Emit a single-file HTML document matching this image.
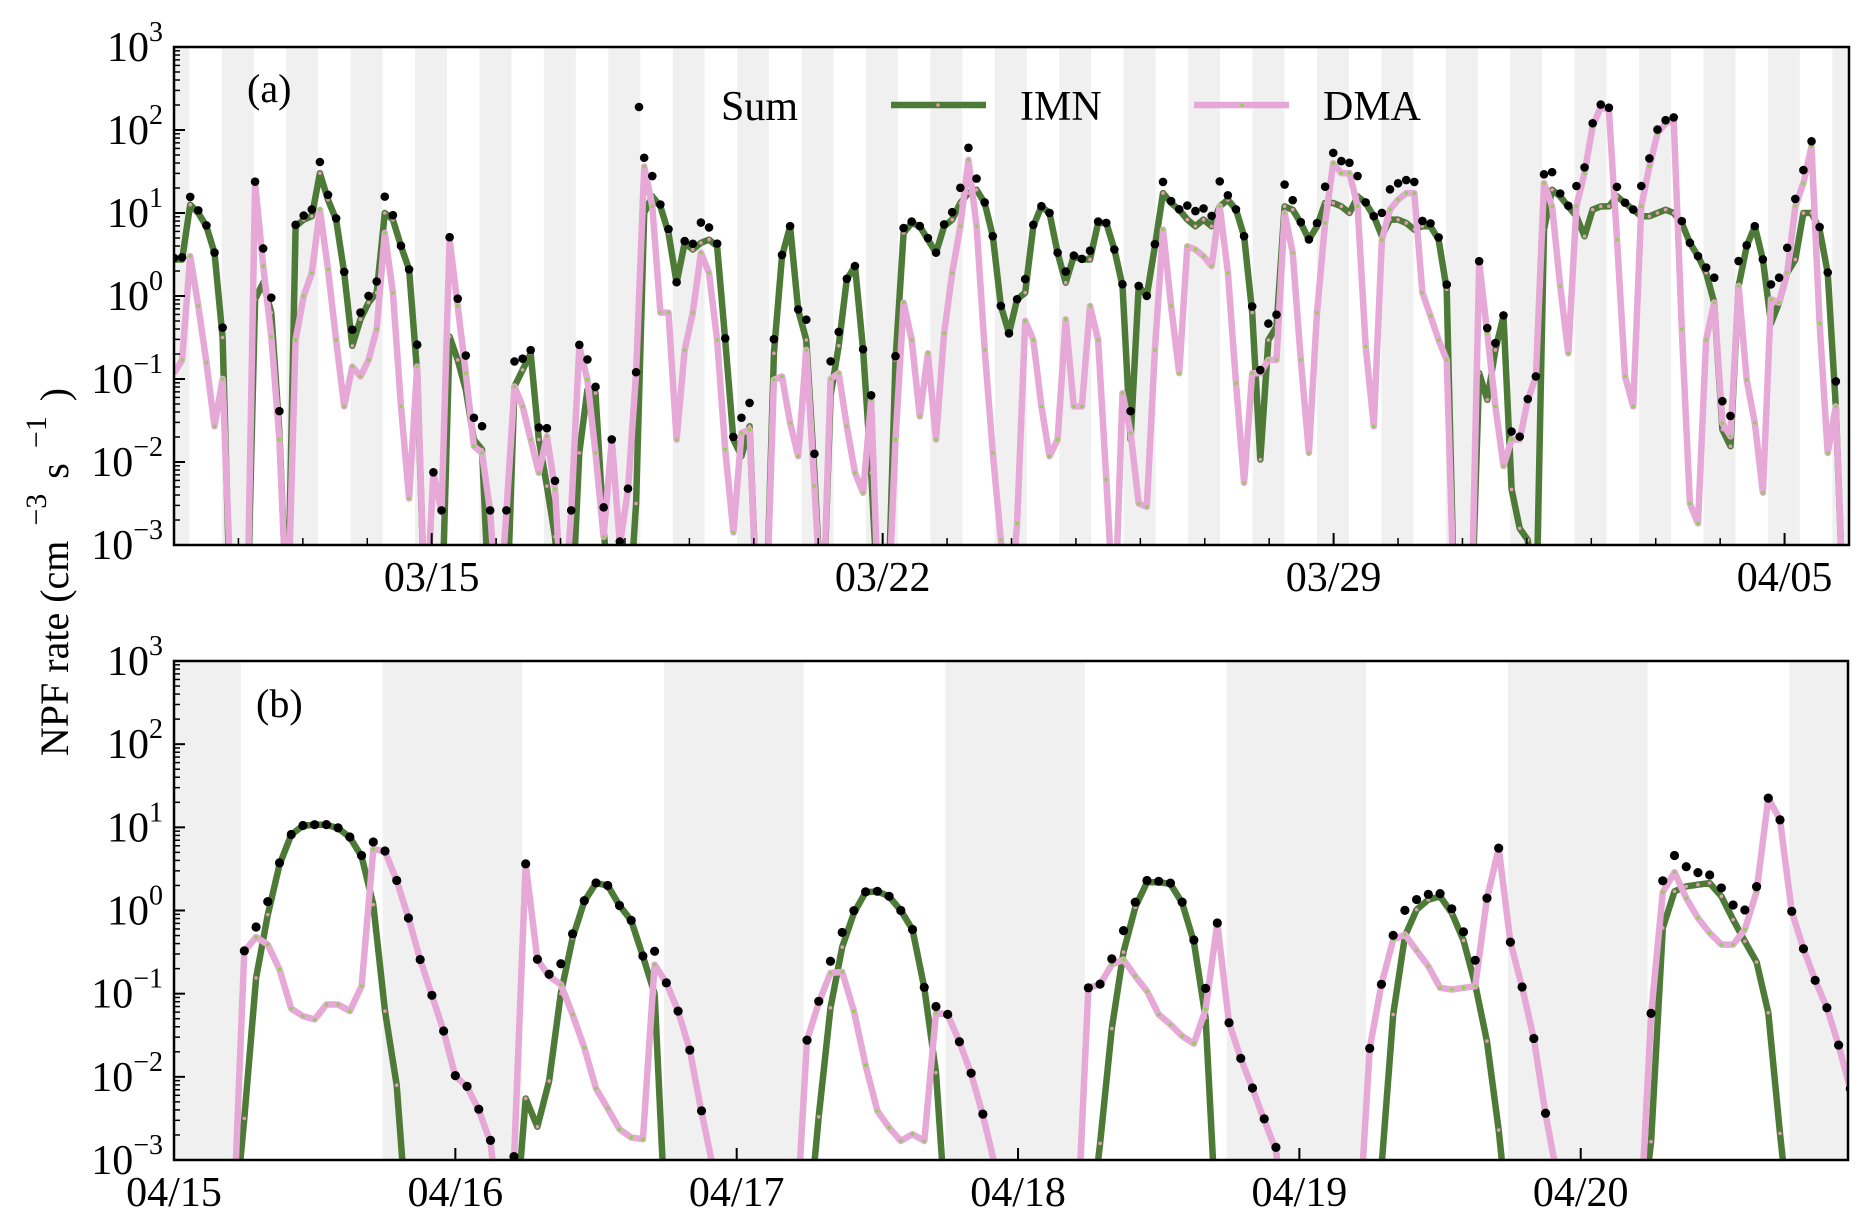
<!DOCTYPE html>
<html><head><meta charset="utf-8">
<style>
html,body{margin:0;padding:0;background:#fff;}
svg{display:block;font-family:"Liberation Serif","DejaVu Serif",serif;}
</style></head>
<body>
<svg id="chart" width="1869" height="1221" viewBox="0 0 1869 1221" xmlns="http://www.w3.org/2000/svg">
<defs>
<clipPath id="clipA"><rect x="174" y="47" width="1675" height="498"/></clipPath>
<clipPath id="clipB"><rect x="174" y="661" width="1674" height="499"/></clipPath>
</defs>
</svg>
<script>
// ---------- Panel (a) data: log10 rates, 3-hourly samples from 03/11 00:00 ----------
const imnLogA = [0.44,0.44,1.1,1.0,0.84,0.52,-0.5,-4,-4,-4,-0.04,0.16,-0.2,-1.65,-4,0.84,0.92,0.96,1.48,1.16,0.92,0.28,-0.6,-0.28,-0.08,0.04,1.0,0.92,0.6,0.32,-0.93,-4,-4,-4,-0.49,-0.77,-1.13,-1.73,-1.85,-4,-4,-4,-1.09,-0.89,-0.69,-1.73,-2.29,-2.9,-4,-4,-1.89,-1.13,-1.17,
-2.8,-4,-4,-4,-2.5,1.0,1.2,1.08,0.76,0.16,0.64,0.56,0.64,0.68,0.6,-0.53,-1.73,-1.93,-1.57,-4,-4,-0.69,0.48,0.84,-0.17,-0.53,-2.13,-4,-1.2,-0.6,0.2,0.36,-0.65,-2.13,-4,-4,-0.77,0.76,0.88,0.84,0.68,0.52,0.84,0.92,1.12,1.24,1.28,1.12,0.72,-0.12,-0.45,-0.04,
0.04,0.84,1.08,1.0,0.52,0.16,0.48,0.44,0.44,0.88,0.88,0.56,0.12,-1.73,0.12,0.0,0.6,1.24,1.12,1.04,0.92,0.84,0.92,0.84,1.08,1.16,1.04,0.72,-0.2,-1.97,-0.53,-0.37,1.08,1.04,0.88,0.68,0.84,1.12,1.12,1.08,1.0,1.2,1.12,0.96,0.72,0.92,0.92,0.88,0.8,0.84,0.84,0.68,
0.08,-4,-4,-4,-0.93,-1.25,-0.65,-0.24,-2.33,-2.8,-2.94,-4,0.8,1.28,1.2,1.08,0.96,0.72,1.04,1.08,1.08,1.2,1.12,1.04,0.96,0.96,1.0,1.04,1.0,0.88,0.64,0.48,0.28,-0.08,-1.61,-1.81,0.12,0.6,0.84,0.44,-0.33,-0.08,0.28,0.44,1.0,1.0,0.8,0.28,-1.33,-4];
const dmaLogA = [-0.93,-0.77,0.48,-0.12,-0.8,-1.57,-1.0,-3.5,-4,-4,1.36,0.36,-0.49,-1.73,-4,-0.53,0.0,0.28,1.04,0.32,-0.53,-1.33,-0.85,-0.97,-0.77,-0.4,0.76,0.04,-1.33,-2.44,-0.85,-4,-2.13,-2.6,0.68,-0.12,-0.93,-1.81,-1.89,-2.6,-4,-2.6,-1.09,-1.33,-1.73,-2.13,-1.69,-2.33,-4,-2.6,-0.61,-1.01,-1.89,
-2.9,-1.73,-3.0,-2.33,-0.93,1.56,1.08,-0.2,-0.2,-1.73,-0.65,-0.2,0.52,0.28,-0.53,-1.85,-2.85,-1.65,-1.61,-4,-4,-1.01,-0.97,-1.53,-1.93,-0.65,-2.29,-4,-1.0,-0.93,-1.57,-2.13,-2.37,-1.25,-4,-4,-1.73,-0.08,-0.53,-1.45,-0.69,-1.73,-0.45,0.28,0.84,1.64,0.84,-0.65,-1.89,-2.94,-4,-2.74,
-0.3,-0.53,-1.33,-1.93,-1.73,-0.28,-1.33,-1.33,-0.12,-0.53,-2.21,-4,-1.17,-1.65,-2.5,-2.54,-0.65,0.8,-0.12,-0.93,0.6,0.56,0.48,0.36,1.08,0.28,-1.05,-2.25,-0.93,-0.93,-0.77,-0.77,1.0,0.52,-0.77,-1.89,-0.2,0.88,1.6,1.48,1.48,1.08,-0.61,-1.57,0.68,1.04,1.16,1.24,1.24,0.04,-0.24,-0.53,
-0.77,-4,-4,-4,0.4,-0.45,-1.33,-2.05,-1.73,-1.73,-1.25,-0.97,1.36,1.08,0.12,-0.69,1.08,1.48,2.04,2.28,2.24,0.68,-0.97,-1.33,1.08,1.56,1.96,2.08,2.12,-0.4,-2.5,-2.74,-0.53,-0.08,-1.53,-1.69,0.12,-1.01,-1.53,-2.37,-0.04,-0.08,0.28,1.08,1.36,1.8,-0.33,-1.89,-1.33,-4];
const stepHoursA = 3.02;
const xTickLabelsA = ["03/15","03/22","03/29","04/05"];
const xTickDaysA = [4,11,18,25];          // days after 03/11 00:00
const daysA = 26;

// ---------- Panel (b) data: log10 rates, hourly from 04/15 00:00 ----------
const imnLogB = [-4,-4,-4,-4,-4,-4,-2.5,-0.81,-0.05,0.55,0.91,1.02,1.03,1.03,0.99,0.88,0.65,0.07,-1.21,-2.1,
-4,-4,-4,-4,-4,-4,-4,-4,-4,-4,
-2.26,-2.6,-2.05,-1.0,-0.33,0.11,0.33,0.3,0.06,-0.12,-0.55,-1.0,
-4,-4,-4,-4,-4,-4,-4,-4,-4,-4,-4,-4,-4,
-2.48,-1.17,-0.44,-0.03,0.22,0.23,0.17,0.0,-0.23,-0.93,-1.95,
-4,-4,-4,-4,-4,-4,-4,-4,-4,-4,-4,-4,-4,
-2.8,-1.42,-0.5,0.04,0.34,0.34,0.32,0.09,-0.38,-1.29,
-4,-4,-4,-4,-4,-4,-4,-4,-4,-4,-4,-4,-4,-4,
-3.1,-1.25,-0.31,0.01,0.13,0.17,-0.03,-0.36,-0.89,-1.57,-2.64,
-4,-4,-4,-4,-4,-4,-4,-4,-4,-4,-4,-4,
-2.78,-0.21,0.23,0.29,0.31,0.33,0.17,-0.11,-0.37,-0.62,-1.23,-2.68,
-4,-4,-4,-4,-4,-4];
const dmaLogB = [-4,-4,-4,-4,-4,-4,
-0.49,-0.32,-0.41,-0.71,-1.18,-1.27,-1.31,-1.13,-1.13,-1.21,-0.91,0.74,0.71,0.36,-0.09,-0.59,-1.02,-1.45,-1.99,-2.12,-2.4,-2.79,-4,-3.0,0.56,-0.59,-0.79,-0.89,-1.25,-1.65,-2.14,-2.38,-2.63,-2.73,-2.75,-0.65,-0.87,-1.21,-1.68,-2.42,-3.1,
-4,-4,-4,-4,-4,-4,-4,
-1.56,-1.11,-0.75,-0.74,-1.21,-1.86,-2.41,-2.61,-2.77,-2.69,-2.77,-1.23,-1.25,-1.58,-1.96,-2.46,-3.05,
-4,-4,-4,-4,-4,-4,-4,
-0.93,-0.89,-0.65,-0.59,-0.79,-0.97,-1.25,-1.37,-1.51,-1.6,-1.19,-0.15,-1.35,-1.78,-2.14,-2.52,-2.88,
-4,-4,-4,-4,-4,-4,-4,
-1.66,-0.89,-0.35,-0.29,-0.48,-0.67,-0.93,-0.95,-0.93,-0.91,0.14,0.75,-0.38,-0.92,-1.54,-2.45,-3.2,
-4,-4,-4,-4,-4,-4,-4,
-1.25,0.22,0.46,0.15,-0.09,-0.27,-0.41,-0.41,-0.23,0.23,1.35,1.09,-0.01,-0.46,-0.84,-1.17,-1.62,-2.15];
const stepHoursB = 1;
const xTickLabelsB = ["04/15","04/16","04/17","04/18","04/19","04/20"];
const xTickDaysB = [0,1,2,3,4,5];
const daysB = 5.95;

const yTickExps = [3,2,1,0,-1,-2,-3];
const nightStartH = 17.8, nightEndH = 29.7;

const NS = "http://www.w3.org/2000/svg";
const svg = document.getElementById("chart");
function mk(tag, attrs, parent){
  const e = document.createElementNS(NS, tag);
  for (const k in attrs) e.setAttribute(k, attrs[k]);
  (parent||svg).appendChild(e);
  return e;
}

function drawPanel(cfg){
  const L=174, R=cfg.right, T=cfg.top, B=cfg.bottom;
  const xScale = d => L + (d/cfg.days)*(R-L);
  const yScale = lg => T + (3-lg)/6*(B-T);
  const g = mk("g",{});
  
  

  for (let day=-1; day<cfg.days+1; day++){
    const a = Math.max(0, day + nightStartH/24), b = Math.min(cfg.days, day + nightEndH/24);
    if (b<=a) continue;
    const r = mk("rect",{x:xScale(a), y:T, width:xScale(b)-xScale(a), height:B-T, fill:"#f0f0f0"}, g);
    
    
  }

  const dg = mk("g",{"clip-path":"url(#"+cfg.clip+")"}, g);
  const px = i => xScale(i*cfg.step/24);
  function line(arr, color, w, mfill, name){
    let d="";
    arr.forEach((v,i)=>{ d += (i?"L":"M")+px(i).toFixed(1)+","+yScale(v).toFixed(1); });
    const p = mk("path",{d:d, fill:"none", stroke:color, "stroke-width":w, "stroke-linejoin":"round"}, dg);
    
    
    arr.forEach((v,i)=>{
      if (v < -3.2) return;
      const c = mk("circle",{cx:px(i), cy:yScale(v), r:1.8, fill:mfill}, dg);
      
      
    });
  }
  line(cfg.imn, "#4d7b37", 6.5, "#e39bb6", "imn");
  line(cfg.dma, "#e6a8d7", 6.5, "#8ed14e", "dma");
  cfg.imn.forEach((v,i)=>{
    const s = Math.pow(10,v)+Math.pow(10,cfg.dma[i]);
    if (s < 1.05e-3) return;
    const c = mk("circle",{cx:px(i), cy:yScale(Math.log10(s)), r:cfg.dotR, fill:"#000"}, dg);
    
    
  });

  yTickExps.forEach(e=>{
    const y = yScale(e);
    mk("line",{x1:L, x2:L+11, y1:y, y2:y, stroke:"#000","stroke-width":2}, g);
    if (e > -3) for (let m=2;m<10;m++){
      const ym = yScale(e-1+Math.log10(m));
      mk("line",{x1:L, x2:L+6, y1:ym, y2:ym, stroke:"#000","stroke-width":1.5}, g);
    }
    const t = mk("text",{x:163, y:y+14, "text-anchor":"end", "font-size":42, fill:"#000"}, g);
    
    
    const a = mk("tspan",{}, t); a.textContent="10";
    const b = mk("tspan",{"font-size":28, dy:-20}, t); b.textContent = e<0 ? "\u2212"+(-e) : String(e);
  });
  if (cfg.minorDaily){
    for (let d=1; d<cfg.days; d++){
      const x = xScale(d);
      mk("line",{x1:x,x2:x,y1:B,y2:B-7,stroke:"#000","stroke-width":1.5}, g);
    }
  }
  cfg.tickDays.forEach((d,k)=>{
    const x = xScale(d);
    mk("line",{x1:x,x2:x,y1:B,y2:B-12,stroke:"#000","stroke-width":2}, g);
    const t = mk("text",{x:x, y:B+46, "text-anchor":"middle", "font-size":42, fill:"#000"}, g);
    
    
    t.textContent = cfg.tickLabels[k];
  });
  const fr = mk("rect",{x:L, y:T, width:R-L, height:B-T, fill:"none", stroke:"#000","stroke-width":2.5}, g);
  
  
  const pl = mk("text",{x:cfg.labelX, y:cfg.labelY, "font-size":40, fill:"#000"}, g);
  
  
  pl.textContent = cfg.label;
}

drawPanel({name:"panel-a", right:1849, top:47, bottom:545, days:daysA, step:stepHoursA, imn:imnLogA, dma:dmaLogA,
  clip:"clipA", dotR:4.3, minorDaily:true, tickDays:xTickDaysA, tickLabels:xTickLabelsA, label:"(a)", labelX:247, labelY:102});
drawPanel({name:"panel-b", right:1848, top:661, bottom:1160, days:daysB, step:stepHoursB, imn:imnLogB, dma:dmaLogB,
  clip:"clipB", dotR:4.6, minorDaily:false, tickDays:xTickDaysB, tickLabels:xTickLabelsB, label:"(b)", labelX:256, labelY:717});

const lg = mk("g",{});


const ld = mk("circle",{cx:639, cy:107, r:4.3, fill:"#000"}, lg);


const lt1 = mk("text",{x:721, y:120, "font-size":42}, lg); lt1.textContent="Sum";


const ll1 = mk("line",{x1:891,x2:986,y1:105,y2:105,stroke:"#4d7b37","stroke-width":6.5}, lg);


mk("circle",{cx:938,cy:105,r:1.8,fill:"#e39bb6"}, lg);
const lt2 = mk("text",{x:1020, y:120, "font-size":42}, lg); lt2.textContent="IMN";


const ll2 = mk("line",{x1:1194,x2:1289,y1:105,y2:105,stroke:"#e6a8d7","stroke-width":6.5}, lg);


mk("circle",{cx:1242,cy:105,r:1.8,fill:"#8ed14e"}, lg);
const lt3 = mk("text",{x:1323, y:120, "font-size":42}, lg); lt3.textContent="DMA";



const yt = mk("text",{x:0, y:0, "font-size":40, "text-anchor":"middle", transform:"translate(68,572) rotate(-90)"});


const s1 = mk("tspan",{}, yt); s1.textContent="NPF rate (cm";
const s2 = mk("tspan",{"font-size":30, dy:-22}, yt); s2.textContent="\u00a0\u00a0\u22123\u00a0\u00a0";
const s3 = mk("tspan",{dy:22}, yt); s3.textContent="s";
const s4 = mk("tspan",{"font-size":30, dy:-22}, yt); s4.textContent="\u00a0\u00a0\u22121\u00a0\u00a0";
const s5 = mk("tspan",{dy:22}, yt); s5.textContent=")";
</script>
</body></html>
